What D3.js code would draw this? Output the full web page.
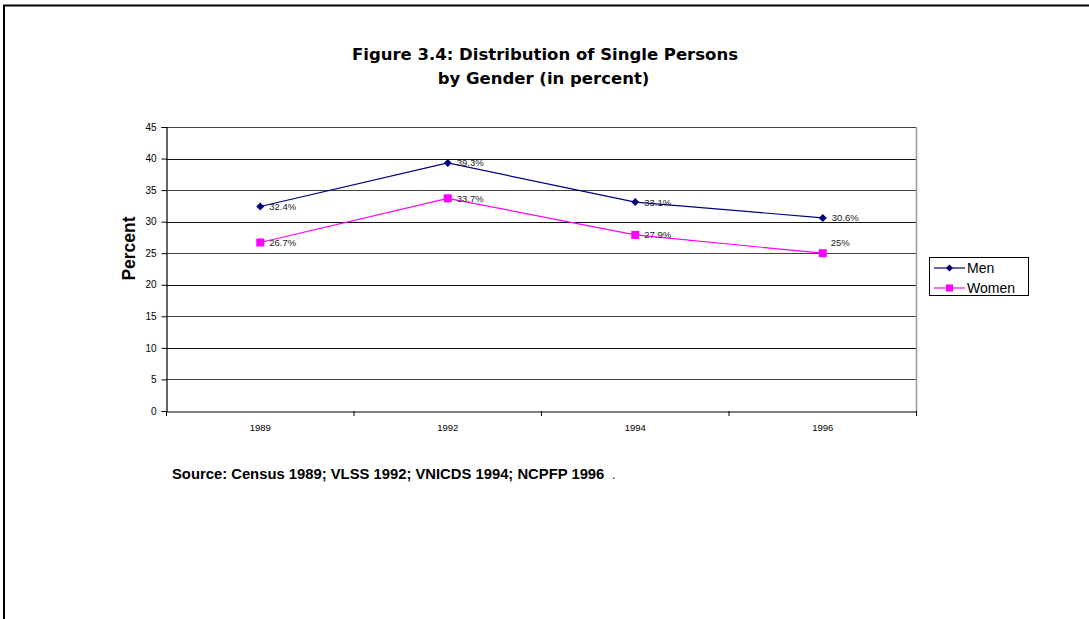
<!DOCTYPE html>
<html><head><meta charset="utf-8">
<script src="https://cdn.jsdelivr.net/npm/d3@7"></script>
<style>body{margin:0;background:#fff}svg{display:block;font-family:"Liberation Sans",Arial,sans-serif}</style>
</head><body>
<svg id="c" width="1089" height="619"></svg>
<script>
const categories = ["1989","1992","1994","1996"];
const menValues = [32.4, 39.3, 33.1, 30.6];
const womenValues = [26.7, 33.7, 27.9, 25];
const menLabels = ["32.4%","39.3%","33.1%","30.6%"];
const womenLabels = ["26.7%","33.7%","27.9%","25%"];
const yTicks = [0,5,10,15,20,25,30,35,40,45];

const svg = d3.select("#c");
// outer frame
svg.append("path").attr("d","M4,619 V5.5 H1089").attr("fill","none").attr("stroke","#000").attr("stroke-width",2);

const pL=166.5, pR=916.5, pT=127, pB=411;
const x = d3.scaleBand().domain(categories).range([pL,pR]);
const y = d3.scaleLinear().domain([0,45]).range([pB,pT]);

// gridlines
svg.append("g").selectAll("line").data(yTicks.filter(d=>d>0)).join("line")
  .attr("x1",pL).attr("x2",pR).attr("y1",d=>Math.round(y(d))+0.5).attr("y2",d=>Math.round(y(d))+0.5)
  .attr("stroke",(d,i)=>i%2?"#111":"#444").attr("stroke-width",1.2);
// right border
svg.append("line").attr("x1",pR).attr("x2",pR).attr("y1",pT).attr("y2",pB+1)
  .attr("stroke","#999").attr("stroke-width",1.5);

// y axis
const ya = svg.append("g").attr("transform",`translate(${pL},0)`)
  .call(d3.axisLeft(y).tickValues(yTicks).tickSize(5).tickPadding(5));
ya.select(".domain").attr("stroke","#000").attr("stroke-width",1.2);
ya.selectAll("text").attr("font-size",10).attr("fill","#000").style("font-family","Liberation Sans, Arial, sans-serif");
// x axis
const xa = svg.append("g").attr("transform",`translate(0,${Math.round(y(0))+0.5})`)
  .call(d3.axisBottom(x).tickSize(0).tickPadding(13));
xa.select(".domain").attr("stroke","#000").attr("stroke-width",1.2);
xa.selectAll("text").attr("font-size",9.5).attr("fill","#000").style("font-family","Liberation Sans, Arial, sans-serif");
// x tick marks at band boundaries
const bounds = categories.map(c=>x(c)).concat([pR]);
svg.append("g").selectAll("line").data(bounds).join("line")
  .attr("x1",d=>d).attr("x2",d=>d).attr("y1",pB).attr("y2",pB+5)
  .attr("stroke","#000");

const cx = c=>x(c)+x.bandwidth()/2;
const line = d3.line().x(d=>cx(d.c)).y(d=>y(d.v));
const men = categories.map((c,i)=>({c,v:menValues[i],l:menLabels[i]}));
const women = categories.map((c,i)=>({c,v:womenValues[i],l:womenLabels[i]}));

svg.append("path").datum(women).attr("d",line).attr("fill","none").attr("stroke","#ff00ff").attr("stroke-width",1.2);
svg.append("path").datum(men).attr("d",line).attr("fill","none").attr("stroke","#000080").attr("stroke-width",1.2);

svg.append("g").selectAll("rect").data(women).join("rect")
  .attr("x",d=>cx(d.c)-4).attr("y",d=>y(d.v)-4).attr("width",8).attr("height",8).attr("fill","#ff00ff");
svg.append("g").selectAll("path").data(men).join("path")
  .attr("d",d3.symbol(d3.symbolSquare,32)).attr("transform",d=>`translate(${cx(d.c)},${y(d.v)}) rotate(45)`).attr("fill","#000080");

// labels
svg.append("g").selectAll("text").data(men).join("text")
  .attr("x",d=>cx(d.c)+9).attr("y",d=>y(d.v)+3.5).attr("font-size",9.5).attr("fill","#222").text(d=>d.l);
svg.append("g").selectAll("text").data(women).join("text")
  .attr("x",(d,i)=>cx(d.c)+(i===3?8:9)).attr("y",(d,i)=>i===3?y(d.v)-7:y(d.v)+3.5).attr("font-size",9.5).attr("fill","#222").text(d=>d.l);

// y title
svg.append("text").attr("transform",`translate(135,248.5) rotate(-90)`)
  .attr("text-anchor","middle").attr("font-size",17.5).attr("font-weight","bold").text("Percent");

// title
svg.append("text").attr("x",545).attr("y",60).attr("text-anchor","middle").attr("font-size",16.5).attr("font-weight","bold")
  .style("font-family","'DejaVu Sans', Verdana, sans-serif").text("Figure 3.4: Distribution of Single Persons");
svg.append("text").attr("x",543.5).attr("y",84).attr("text-anchor","middle").attr("font-size",16.5).attr("font-weight","bold")
  .style("font-family","'DejaVu Sans', Verdana, sans-serif").text("by Gender (in percent)");

// source
svg.append("text").attr("x",172).attr("y",479).attr("font-size",14.8).attr("font-weight","bold").text("Source: Census 1989; VLSS 1992; VNICDS 1994; NCPFP 1996");
svg.append("text").attr("x",612).attr("y",479).attr("font-size",12).text(".");

// legend
const lg = svg.append("g");
lg.append("rect").attr("x",929.5).attr("y",257.5).attr("width",99).attr("height",38).attr("fill","#fff").attr("stroke","#000");
const series=[{n:"Men",c:"#000080",s:"d"},{n:"Women",c:"#ff00ff",s:"r"}];
series.forEach((s,i)=>{
  const yy=268+i*20;
  lg.append("line").attr("x1",934).attr("x2",965).attr("y1",yy).attr("y2",yy).attr("stroke",s.c).attr("stroke-width",1.2);
  if(s.s==="d") lg.append("path").attr("d",d3.symbol(d3.symbolSquare,24)).attr("transform",`translate(949.5,${yy}) rotate(45)`).attr("fill",s.c);
  else lg.append("rect").attr("x",946).attr("y",yy-3.5).attr("width",7).attr("height",7).attr("fill",s.c);
  lg.append("text").attr("x",967).attr("y",yy+5).attr("font-size",14).text(s.n);
});
</script>
</body></html>
